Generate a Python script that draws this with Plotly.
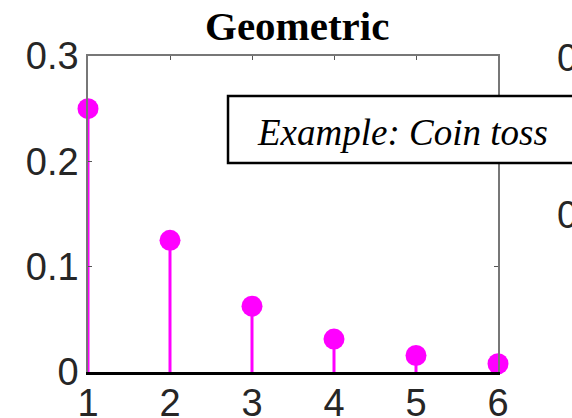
import plotly.graph_objects as go

# Geometric pmf, p = 1/2: number of tosses until the first head
trials = [1, 2, 3, 4, 5, 6]
probability = [0.25, 0.125, 0.0625, 0.03125, 0.015625, 0.0078125]
x_ticks = [1, 2, 3, 4, 5, 6]
y_ticks = [0, 0.1, 0.2, 0.3]
y_tick_text = ["0", "0.1", "0.2", "0.3"]

MAGENTA = "#ff00ff"
SANS = "Liberation Sans, Arial, sans-serif"
SERIF = "Liberation Serif, Times New Roman, serif"

# stems: vertical segments from zero up to each probability
stem_x, stem_y = [], []
for k, p in zip(trials, probability):
    stem_x += [k, k, None]
    stem_y += [0, p, None]

fig = go.Figure()
fig.add_trace(go.Scatter(x=stem_x, y=stem_y, mode="lines",
                         line=dict(color=MAGENTA, width=3),
                         hoverinfo="skip", showlegend=False, cliponaxis=False))
fig.add_trace(go.Scatter(x=trials, y=probability, mode="markers",
                         marker=dict(color=MAGENTA, size=21),
                         showlegend=False, cliponaxis=False))
# carrier for the top axis
fig.add_trace(go.Scatter(x=trials, y=probability, xaxis="x2", mode="markers",
                         marker=dict(opacity=0), hoverinfo="skip", showlegend=False))

fig.update_layout(
    width=572, height=418,
    margin=dict(l=88, r=74, t=56, b=46, autoexpand=False),
    paper_bgcolor="white", plot_bgcolor="white",
    xaxis=dict(range=[1, 6], tickvals=x_ticks, ticktext=[str(v) for v in x_ticks],
               showgrid=False, zeroline=False, showline=True, automargin=False,
               linecolor="black", linewidth=3, ticks="", ticklabelstandoff=-5,
               tickfont=dict(family=SANS, size=38, color="#262626"),
               fixedrange=True),
    xaxis2=dict(range=[1, 6], overlaying="x", side="top", anchor="y",
                tickvals=x_ticks, showticklabels=False, showgrid=False,
                automargin=False,
                zeroline=False, showline=True, linecolor="#777777", linewidth=1.5,
                ticks="inside", ticklen=4, tickcolor="#555555"),
    yaxis=dict(range=[0, 0.3], tickvals=y_ticks, ticktext=y_tick_text,
               showgrid=False, zeroline=False, showline=True, mirror="ticks",
               automargin=False,
               linecolor="#777777", linewidth=1.5,
               ticks="inside", ticklen=4, tickcolor="#555555",
               tickfont=dict(family=SANS, size=38, color="#262626"),
               fixedrange=True),
)

# title
fig.add_annotation(text="<b>Geometric</b>", xref="paper", yref="paper",
                   x=0.51, y=1.095, xanchor="center", yanchor="middle",
                   showarrow=False, font=dict(family=SERIF, size=41, color="black"))

# text box
fig.add_shape(type="rect", xref="paper", yref="paper",
              x0=0.3415, x1=1.25, y0=0.6614, y1=0.8734,
              line=dict(color="black", width=2.5), fillcolor="white", layer="above")
fig.add_annotation(text="<i>Example: Coin toss</i>", xref="paper", yref="paper",
                   x=0.768, y=0.759, xanchor="center", yanchor="middle",
                   showarrow=False, font=dict(family=SERIF, size=37, color="black"))

# tick labels of the neighbouring panel
for yv, txt in [(0.994, "0.3"), (0.497, "0.2")]:
    fig.add_annotation(text=txt, xref="paper", yref="paper",
                       x=1.138, y=yv, xanchor="left", yanchor="middle",
                       showarrow=False, font=dict(family=SANS, size=38, color="#262626"))

fig.write_html("out.html")
